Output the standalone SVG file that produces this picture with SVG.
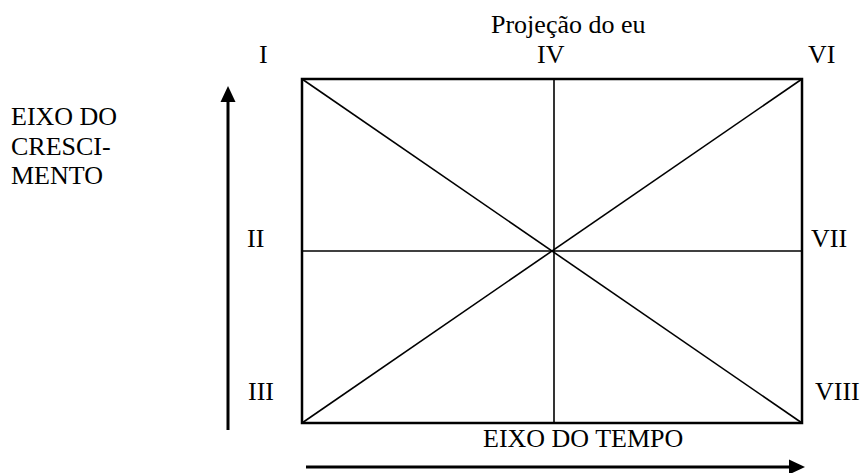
<svg xmlns="http://www.w3.org/2000/svg" width="861" height="473" viewBox="0 0 861 473">
<style>
text{font-family:"Liberation Serif","Times New Roman",serif;font-size:26px;fill:#000}
.box{fill:none;stroke:#000;stroke-width:2.5}
.ln{stroke:#000;stroke-width:1.6;fill:none}
.ax{stroke:#000;stroke-width:3;fill:none}
</style>
<defs>
<marker id="ah" markerWidth="16" markerHeight="16" refX="1" refY="8" orient="auto" markerUnits="userSpaceOnUse">
<path d="M0,0.5 L16,8 L0,15.5 Z" fill="#000"/>
</marker>
</defs>
<g id="frame">
<rect class="box" x="302" y="79" width="500" height="344"/>
</g>
<g id="connectors">
<line class="ln" x1="302" y1="79" x2="802" y2="423"/>
<line class="ln" x1="802" y1="79" x2="302" y2="423"/>
<line class="ln" x1="554" y1="79" x2="554" y2="423"/>
<line class="ln" x1="302" y1="251" x2="802" y2="251"/>
<line class="ax" x1="228" y1="430" x2="228" y2="101" marker-end="url(#ah)"/>
<line class="ax" x1="306" y1="467" x2="790" y2="467" marker-end="url(#ah)"/>
</g>
<g id="labels">
<text x="491" y="33">Projeção do eu</text>
<text x="259" y="63">I</text>
<text x="537" y="63">IV</text>
<text x="808" y="63">VI</text>
<text x="247" y="247">II</text>
<text x="811" y="247">VII</text>
<text x="248" y="400">III</text>
<text x="815" y="400">VIII</text>
<text x="483" y="447">EIXO DO TEMPO</text>
<text x="11" y="125">EIXO DO</text>
<text x="11" y="155">CRESCI-</text>
<text x="11" y="184">MENTO</text>
</g>
</svg>
